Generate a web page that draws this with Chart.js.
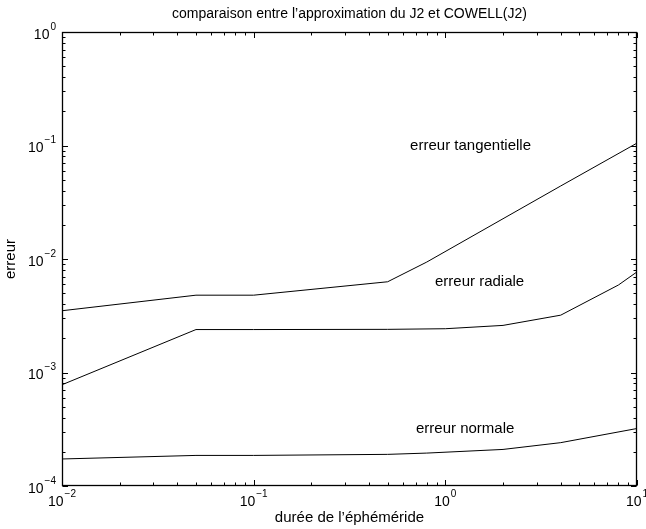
<!DOCTYPE html>
<html>
<head>
<meta charset="utf-8">
<script src="https://cdn.jsdelivr.net/npm/chart.js@4"></script>
<style>
    body { margin: 0; background: #fff; }
    canvas { display: block; }
</style>
</head>
<body>
<canvas id="chart" width="646" height="529"></canvas>
<script>
// Durées (abscisses) et erreurs de chaque composante
const dureesTangentielle = [0.01, 0.05, 0.1, 0.5, 0.8, 4, 10];
const erreurTangentielle = [3.5e-3, 4.8e-3, 4.8e-3, 6.3e-3, 9.4e-3, 0.044, 0.105];

const dureesRadiale = [0.01, 0.05, 0.1, 0.5, 1, 2, 4, 8, 10];
const erreurRadiale = [7.8e-4, 2.39e-3, 2.39e-3, 2.4e-3, 2.43e-3, 2.6e-3, 3.2e-3, 5.9e-3, 7.7e-3];

const dureesNormale = [0.01, 0.05, 0.1, 0.5, 0.8, 2, 4, 10];
const erreurNormale = [1.73e-4, 1.86e-4, 1.86e-4, 1.9e-4, 1.95e-4, 2.1e-4, 2.41e-4, 3.21e-4];

// Décades affichées sur les axes
const xTicks = [0.01, 0.1, 1, 10];
const yTicks = [1e-4, 1e-3, 1e-2, 1e-1, 1];

// Annotations placées dans le repère des données
const noteTexts = ['erreur tangentielle', 'erreur radiale', 'erreur normale'];
const noteX = [0.655, 0.883, 0.703];
const noteY = [0.1, 6.3e-3, 3.2e-4];

const FONT = '"Liberation Sans", Arial, Helvetica, sans-serif';
const TEXT_SIZE = 15;

function toPoints(xs, ys) {
    return xs.map((x, i) => ({ x: x, y: ys[i] }));
}

function isDecade(v) {
    const l = Math.log10(v);
    return Math.abs(l - Math.round(l)) < 1e-9;
}

// all 1..9 x 10^n values between min and max
function logTickValues(min, max) {
    const vals = [];
    for (let e = Math.floor(Math.log10(min)); e <= Math.ceil(Math.log10(max)); e++) {
        for (let m = 1; m <= 9; m++) {
            const v = m * Math.pow(10, e);
            if (v >= min * 0.9999 && v <= max * 1.0001) vals.push(v);
        }
    }
    return vals;
}

// "10" with a raised exponent
function drawPower(ctx, value, x, y, align) {
    const exp = String(Math.round(Math.log10(value))).replace('-', '\u2212');
    ctx.font = '14px ' + FONT;
    const wBase = ctx.measureText('10').width;
    ctx.font = '10px ' + FONT;
    const wExp = ctx.measureText(exp).width;
    const total = wBase + 1 + wExp;
    let left = x;
    if (align === 'center') left = x - total / 2;
    if (align === 'right') left = x - total;
    ctx.textAlign = 'left';
    ctx.textBaseline = 'middle';
    ctx.font = '14px ' + FONT;
    ctx.fillText('10', left, y);
    ctx.font = '10px ' + FONT;
    ctx.fillText(exp, left + wBase + 1, y - 8);
}

// Box, inward ticks, tick labels, titles and annotations
const axesBox = {
    id: 'axesBox',
    afterDraw(chart) {
        const { ctx, chartArea: a, scales: { x, y } } = chart;
        ctx.save();
        ctx.strokeStyle = '#000';
        ctx.fillStyle = '#000';
        ctx.lineWidth = 1;

        const left = a.left + 0.5, right = a.right - 0.5;
        const top = a.top + 0.5, bottom = a.bottom - 0.5;

        ctx.beginPath();
        logTickValues(x.min, x.max).forEach(v => {
            const px = Math.round(x.getPixelForValue(v)) + 0.5;
            const len = isDecade(v) ? 5.5 : 3;
            ctx.moveTo(px, bottom); ctx.lineTo(px, bottom - len);
            ctx.moveTo(px, top); ctx.lineTo(px, top + len);
        });
        logTickValues(y.min, y.max).forEach(v => {
            const py = Math.round(y.getPixelForValue(v)) + 0.5;
            const len = isDecade(v) ? 5.5 : 3;
            ctx.moveTo(left, py); ctx.lineTo(left + len, py);
            ctx.moveTo(right, py); ctx.lineTo(right - len, py);
        });
        ctx.stroke();

        ctx.lineWidth = 1.3;
        ctx.strokeRect(left, top, right - left, bottom - top);

        xTicks.forEach(v => drawPower(ctx, v, x.getPixelForValue(v), a.bottom + 16, 'center'));
        yTicks.forEach(v => drawPower(ctx, v, a.left - 6, y.getPixelForValue(v) + 3, 'right'));

        ctx.textAlign = 'center';
        ctx.textBaseline = 'middle';
        ctx.font = '14px ' + FONT;
        ctx.fillText('comparaison entre l\u2019approximation du J2 et COWELL(J2)', (a.left + a.right) / 2, 14);

        ctx.font = TEXT_SIZE + 'px ' + FONT;
        ctx.fillText('durée de l\u2019éphéméride', (a.left + a.right) / 2, a.bottom + 32);

        ctx.save();
        ctx.translate(11, (a.top + a.bottom) / 2);
        ctx.rotate(-Math.PI / 2);
        ctx.fillText('erreur', 0, 0);
        ctx.restore();

        ctx.textAlign = 'left';
        noteTexts.forEach((t, i) => {
            ctx.fillText(t, x.getPixelForValue(noteX[i]), y.getPixelForValue(noteY[i]));
        });
        ctx.restore();
    }
};

const lineStyle = {
    borderColor: '#000',
    borderWidth: 1,
    pointRadius: 0,
    tension: 0,
    fill: false
};

new Chart(document.getElementById('chart'), {
    type: 'line',
    data: {
        datasets: [
            Object.assign({ label: 'erreur tangentielle', data: toPoints(dureesTangentielle, erreurTangentielle) }, lineStyle),
            Object.assign({ label: 'erreur radiale', data: toPoints(dureesRadiale, erreurRadiale) }, lineStyle),
            Object.assign({ label: 'erreur normale', data: toPoints(dureesNormale, erreurNormale) }, lineStyle)
        ]
    },
    options: {
        responsive: false,
        animation: false,
        devicePixelRatio: 1,
        layout: { padding: { left: 62, right: 9, top: 32, bottom: 43 } },
        scales: {
            x: { type: 'logarithmic', min: 0.01, max: 10, display: false },
            y: { type: 'logarithmic', min: 1e-4, max: 1, display: false }
        },
        plugins: {
            legend: { display: false },
            tooltip: { enabled: false }
        }
    },
    plugins: [axesBox]
});
</script>
</body>
</html>
